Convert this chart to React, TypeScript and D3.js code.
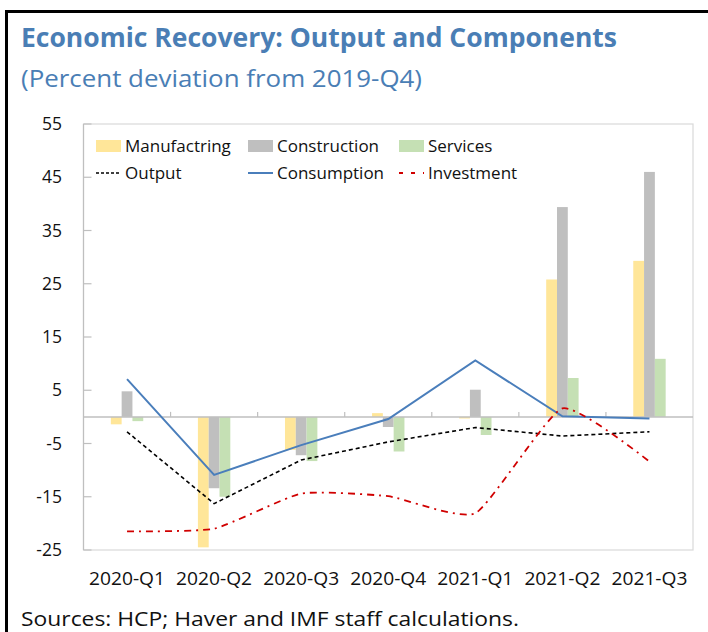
import * as d3 from 'd3';

const categories = ['2020-Q1', '2020-Q2', '2020-Q3', '2020-Q4', '2021-Q1', '2021-Q2', '2021-Q3'];
const manufacturing = [-1.4, -24.5, -6.2, 0.7, -0.3, 25.8, 29.3];
const construction = [4.8, -13.4, -7.2, -1.9, 5.1, 39.4, 46.0];
const services = [-0.8, -15.0, -8.3, -6.5, -3.4, 7.3, 10.9];
const output = [-2.8, -16.3, -8.1, -4.7, -2.0, -3.6, -2.8];
const consumption = [7.1, -10.9, -5.3, -0.4, 10.6, 0.1, -0.3];
const investment = [-21.5, -21.0, -14.4, -14.9, -18.1, 1.6, -8.4];
const yTicks = [55, 45, 35, 25, 15, 5, -5, -15, -25];

const FONT = '"Open Sans", "Noto Sans", sans-serif';
const TITLE_COLOR = '#4a7eb5';

const barSeries = [
  { name: 'Manufactring', values: manufacturing, color: '#ffe699' },
  { name: 'Construction', values: construction, color: '#bfbfbf' },
  { name: 'Services', values: services, color: '#c5e0b4' },
];

const lineSeries = [
  { name: 'Output', values: output, color: '#000000', dash: '4,3', width: 1.6, curve: d3.curveLinear },
  { name: 'Consumption', values: consumption, color: '#4a7ebb', dash: null, width: 2, curve: d3.curveLinear },
  { name: 'Investment', values: investment, color: '#d00000', dash: '7,5,2,5', width: 1.8, curve: d3.curveCardinal.tension(0.5) },
];

export default function App() {
  const W = 708;
  const H = 632;
  const left = 83.5;
  const right = 693;
  const top = 124;
  const bottom = 550;

  const x = d3.scaleBand<string>().domain(categories).range([left, right]).padding(0);
  const y = d3.scaleLinear().domain([-25, 55]).range([bottom, top]);
  const barW = 10.8;

  const lineGen = (vals: number[], curve: any) =>
    d3
      .line<number>()
      .x((_, i) => (x(categories[i]) || 0) + x.bandwidth() / 2)
      .y((d) => y(d))
      .curve(curve)(vals) || '';

  const legendCols = [96, 248, 399];
  const legendRows = [146, 173];

  return (
    <svg
      width={W}
      height={H}
      style={{ position: 'absolute', left: 0, top: 0, display: 'block', background: '#fff' }}
      fontFamily={FONT}
    >
      {/* outer frame */}
      <line x1={6.5} y1={10} x2={6.5} y2={H} stroke="#000" strokeWidth={3} />
      <line x1={5} y1={11.5} x2={W} y2={11.5} stroke="#000" strokeWidth={3} />

      <text x={21} y={47} fill={TITLE_COLOR} fontSize={26} fontWeight={700} textLength={596} lengthAdjust="spacingAndGlyphs">
        Economic Recovery: Output and Components
      </text>
      <text x={21} y={87} fill={TITLE_COLOR} fontSize={24} textLength={401} lengthAdjust="spacingAndGlyphs">
        (Percent deviation from 2019-Q4)
      </text>

      {/* plot frame */}
      <rect x={left} y={top} width={right - left} height={bottom - top} fill="none" stroke="#d9d9d9" strokeWidth={1.2} />
      <line x1={left} y1={top} x2={left} y2={bottom} stroke="#bfbfbf" strokeWidth={1.2} />

      {yTicks.map((t) => (
        <g key={t}>
          <line x1={left} x2={left + 8} y1={y(t)} y2={y(t)} stroke="#bfbfbf" strokeWidth={1.2} />
          <text x={62} y={y(t)} dy="0.35em" textAnchor="end" fontSize={17.5} fill="#111">
            {t}
          </text>
        </g>
      ))}

      {/* bars */}
      {barSeries.map((s, si) =>
        s.values.map((v, i) => {
          const cx = (x(categories[i]) || 0) + x.bandwidth() / 2;
          const bx = cx - (barSeries.length * barW) / 2 + si * barW;
          return (
            <rect
              key={s.name + i}
              x={bx}
              y={Math.min(y(v), y(0))}
              width={barW}
              height={Math.abs(y(v) - y(0))}
              fill={s.color}
            />
          );
        })
      )}

      {/* zero axis */}
      <line x1={left} x2={right} y1={y(0)} y2={y(0)} stroke="#bfbfbf" strokeWidth={1.5} />
      {categories.slice(1).map((c) => (
        <line key={c} x1={x(c) || 0} x2={x(c) || 0} y1={y(0) - 5} y2={y(0)} stroke="#bfbfbf" strokeWidth={1.2} />
      ))}

      {/* lines */}
      {lineSeries.map((s) => (
        <path
          key={s.name}
          d={lineGen(s.values, s.curve)}
          fill="none"
          stroke={s.color}
          strokeWidth={s.width}
          strokeDasharray={s.dash || undefined}
        />
      ))}

      {categories.map((c) => (
        <text
          key={c}
          x={(x(c) || 0) + x.bandwidth() / 2 - 38}
          y={585}
          fontSize={17.5}
          fill="#111"
          textLength={76}
          lengthAdjust="spacingAndGlyphs"
        >
          {c}
        </text>
      ))}

      {/* legend */}
      {barSeries.map((s, i) => (
        <g key={s.name}>
          <rect x={legendCols[i]} y={legendRows[0] - 6} width={25} height={12} fill={s.color} />
          <text x={legendCols[i] + 29} y={legendRows[0]} dy="0.35em" fontSize={17} fill="#111">
            {s.name}
          </text>
        </g>
      ))}
      {lineSeries.map((s, i) => (
        <g key={s.name}>
          <line
            x1={legendCols[i]}
            x2={legendCols[i] + 25}
            y1={legendRows[1]}
            y2={legendRows[1]}
            stroke={s.color}
            strokeWidth={s.width}
            strokeDasharray={s.name === 'Output' ? '3,2' : s.name === 'Investment' ? '4,8' : undefined}
          />
          <text x={legendCols[i] + 29} y={legendRows[1]} dy="0.35em" fontSize={17} fill="#111">
            {s.name}
          </text>
        </g>
      ))}

      <text x={21} y={626} fontSize={20} fill="#111" textLength={498} lengthAdjust="spacingAndGlyphs">
        Sources: HCP; Haver and IMF staff calculations.
      </text>
    </svg>
  );
}
